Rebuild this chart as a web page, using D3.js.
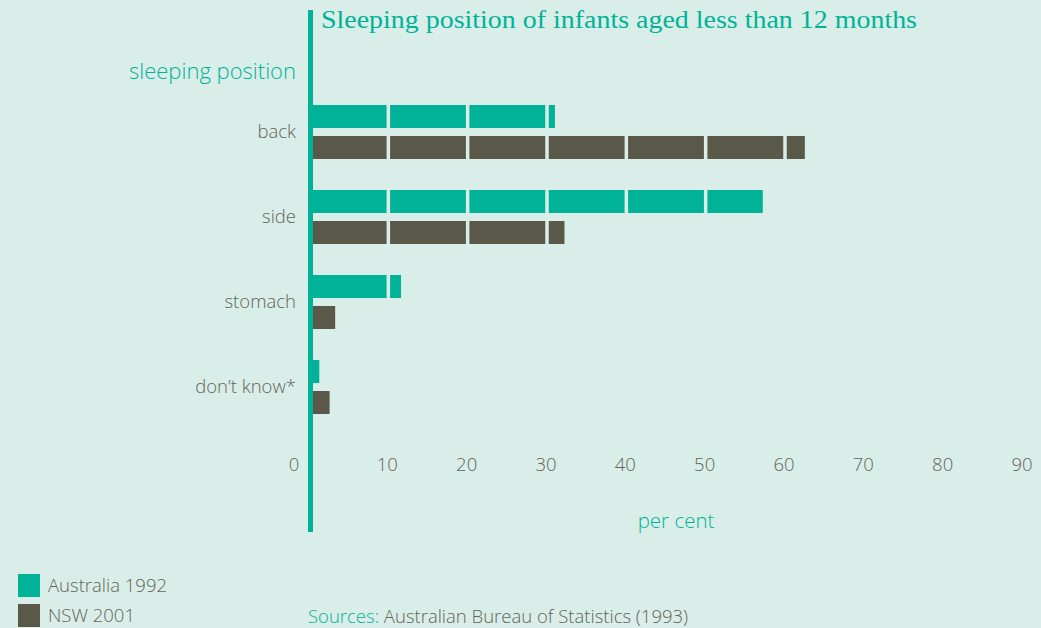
<!DOCTYPE html>
<html>
<head>
<meta charset="utf-8">
<script src="https://cdn.jsdelivr.net/npm/d3@7"></script>
<style>
	body { margin: 0; background: #d9eee8; }
	svg { display: block; }
	text { font-family: "Open Sans", Roboto, "Liberation Sans", sans-serif; font-weight: 300; }
</style>
</head>
<body>
<svg id="graphic" width="1041" height="628"></svg>
<script>
var BG = "#d9eee8";
var TEAL = "#00b398";
var DARK = "#5a5849";
var GREY = "#64645a";
var FS = 18.5; // label font size, px

// data (per cent)
var positions = ["back", "side", "stomach", "don\u2019t know*"];
var series = ["Australia 1992", "NSW 2001"];
var australia1992 = [31, 57.2, 11.6, 1.3];
var nsw2001 = [62.5, 32.2, 3.3, 2.6];
var xTicks = [0, 10, 20, 30, 40, 50, 60, 70, 80, 90];

var svg = d3.select("#graphic");

svg.append("rect")
	.attr("width", 1041)
	.attr("height", 628)
	.attr("fill", BG);

var x = d3.scaleLinear()
	.domain([0, 90])
	.range([309, 1023]);

var y = d3.scaleBand()
	.domain(positions)
	.range([105, 105 + 85 * 4 - 31])
	.paddingInner(31 / 85)
	.paddingOuter(0);

var ySub = d3.scaleBand()
	.domain(series)
	.range([0, y.bandwidth()])
	.paddingInner(8 / 31);

var color = d3.scaleOrdinal()
	.domain(series)
	.range([TEAL, DARK]);

var rows = positions.map(function(p, i) {
	return { position: p, values: [australia1992[i], nsw2001[i]] };
});

// bars
var groups = svg.append("g").selectAll("g")
	.data(rows)
	.enter().append("g")
		.attr("transform", function(d) { return "translate(0," + y(d.position) + ")"; });

groups.selectAll("rect")
	.data(function(d) {
		return series.map(function(s, j) { return { key: s, value: d.values[j] }; });
	})
	.enter().append("rect")
		.attr("x", x(0))
		.attr("y", function(d) { return ySub(d.key); })
		.attr("width", function(d) { return x(d.value) - x(0); })
		.attr("height", ySub.bandwidth())
		.attr("fill", function(d) { return color(d.key); });

// gaps that cut the bars every 10 per cent
svg.append("g").selectAll("line")
	.data(xTicks.slice(1))
	.enter().append("line")
		.attr("x1", function(d) { return x(d); })
		.attr("x2", function(d) { return x(d); })
		.attr("y1", 95)
		.attr("y2", 425)
		.attr("stroke", BG)
		.attr("stroke-width", 3.5);

// tick labels
svg.append("g").selectAll("text")
	.data(xTicks)
	.enter().append("text")
		.attr("x", function(d) { return d === 0 ? x(d) - 15 : x(d) - 1; })
		.attr("y", 465)
		.attr("dy", "0.35em")
		.attr("text-anchor", "middle")
		.attr("font-size", FS)
		.attr("fill", GREY)
		.text(function(d) { return d; });

// category labels
svg.append("g").selectAll("text")
	.data(positions)
	.enter().append("text")
		.attr("x", 296)
		.attr("y", function(d) { return y(d) + y.bandwidth() / 2; })
		.attr("dy", "0.35em")
		.attr("text-anchor", "end")
		.attr("font-size", FS)
		.attr("fill", GREY)
		.text(function(d) { return d; });

svg.append("text")
	.attr("x", 296)
	.attr("y", 71)
	.attr("dy", "0.35em")
	.attr("text-anchor", "end")
	.attr("font-size", 22)
	.attr("fill", TEAL)
	.text("sleeping position");

// axis line
svg.append("rect")
	.attr("x", 308)
	.attr("y", 10)
	.attr("width", 5)
	.attr("height", 522)
	.attr("fill", TEAL);

// title
svg.append("text")
	.attr("x", 321)
	.attr("y", 28)
	.style("font-family", "\"Liberation Serif\", serif")
	.style("font-weight", 400)
	.attr("font-size", 25)
	.attr("textLength", 596)
	.attr("lengthAdjust", "spacingAndGlyphs")
	.attr("fill", TEAL)
	.text("Sleeping position of infants aged less than 12 months");

svg.append("text")
	.attr("x", 676)
	.attr("y", 521)
	.attr("dy", "0.35em")
	.attr("text-anchor", "middle")
	.attr("font-size", 20.5)
	.attr("fill", TEAL)
	.text("per cent");

// legend
var legend = svg.append("g").selectAll("g")
	.data(series)
	.enter().append("g")
		.attr("transform", function(d, i) { return "translate(18," + (574 + i * 30) + ")"; });

legend.append("rect")
	.attr("width", 22)
	.attr("height", 23)
	.attr("fill", function(d) { return color(d); });

legend.append("text")
	.attr("x", 30)
	.attr("y", 12)
	.attr("dy", "0.35em")
	.attr("font-size", FS)
	.attr("fill", GREY)
	.text(function(d) { return d; });

// source note
var src = svg.append("text")
	.attr("x", 308)
	.attr("y", 617)
	.attr("dy", "0.35em")
	.attr("font-size", FS)
	.attr("fill", GREY);

src.append("tspan").attr("fill", TEAL).text("Sources: ");
src.append("tspan").text("Australian Bureau of Statistics (1993)");
</script>
</body>
</html>
